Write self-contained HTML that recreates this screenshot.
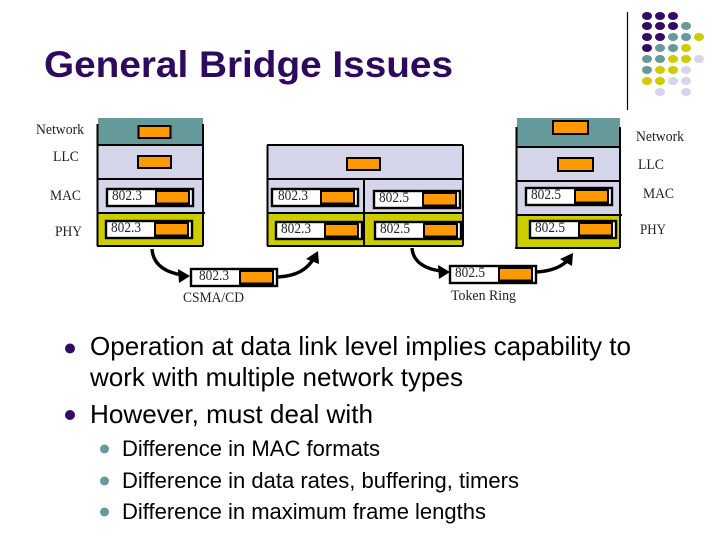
<!DOCTYPE html>
<html><head><meta charset="utf-8"><style>
html,body{margin:0;padding:0;background:#fff}
svg{display:block}
.s{font-family:"Liberation Sans",sans-serif;fill:#000}
.t{font-family:"Liberation Serif",serif;font-size:15px;fill:#222}
.o{fill:#ff9900;stroke:#000;stroke-width:2}
.w{fill:#fff;stroke:#000;stroke-width:2.4}
.a{stroke:#000;stroke-width:3.400;fill:none}
</style></head><body>
<svg width="720" height="540" viewBox="0 0 720 540" xmlns="http://www.w3.org/2000/svg">
<defs>
<g id="box"><rect class="w" x="0" y="0" width="86" height="17"/><rect x="48" y="1" width="35" height="15" fill="#000"/><rect x="50" y="3" width="31" height="10.500" fill="#ff9900"/></g>
</defs>

<!-- corner dots -->
<line x1="627.500" y1="12" x2="627.500" y2="110" stroke="#000" stroke-width="1.200"/>
<g fill="#330a66">
<ellipse cx="647" cy="16" rx="5" ry="4"/><ellipse cx="660" cy="16" rx="5" ry="4"/><ellipse cx="673" cy="16" rx="5" ry="4"/>
<ellipse cx="647" cy="26" rx="5" ry="4"/><ellipse cx="660" cy="26" rx="5" ry="4"/><ellipse cx="673" cy="26" rx="5" ry="4"/>
<ellipse cx="647" cy="37" rx="5" ry="4"/><ellipse cx="660" cy="37" rx="5" ry="4"/>
<ellipse cx="647" cy="48" rx="5" ry="4"/>
</g>
<g fill="#669999">
<ellipse cx="686" cy="26" rx="5" ry="4"/>
<ellipse cx="673" cy="37" rx="5" ry="4"/><ellipse cx="686" cy="37" rx="5" ry="4"/>
<ellipse cx="660" cy="48" rx="5" ry="4"/><ellipse cx="673" cy="48" rx="5" ry="4"/>
<ellipse cx="647" cy="59" rx="5" ry="4"/><ellipse cx="660" cy="59" rx="5" ry="4"/>
<ellipse cx="647" cy="70" rx="5" ry="4"/>
</g>
<g fill="#cccc00">
<ellipse cx="699" cy="37" rx="5" ry="4"/>
<ellipse cx="686" cy="48" rx="5" ry="4"/>
<ellipse cx="673" cy="59" rx="5" ry="4"/><ellipse cx="686" cy="59" rx="5" ry="4"/>
<ellipse cx="660" cy="70" rx="5" ry="4"/><ellipse cx="673" cy="70" rx="5" ry="4"/>
<ellipse cx="647" cy="81" rx="5" ry="4"/><ellipse cx="660" cy="81" rx="5" ry="4"/>
</g>
<g fill="#d5d5ea">
<ellipse cx="699" cy="59" rx="5" ry="4"/>
<ellipse cx="686" cy="70" rx="5" ry="4"/>
<ellipse cx="673" cy="81" rx="5" ry="4"/><ellipse cx="686" cy="81" rx="5" ry="4"/>
<ellipse cx="660" cy="92" rx="5" ry="4"/><ellipse cx="686" cy="92" rx="5" ry="4"/>
</g>

<!-- title -->
<text x="44" y="77" font-family="Liberation Sans, sans-serif" font-size="37" font-weight="bold" fill="#2e0a5e" textLength="409" lengthAdjust="spacingAndGlyphs">General Bridge Issues</text>

<!-- left stack -->
<rect x="98" y="118" width="105" height="27" fill="#669999"/>
<rect x="98" y="145" width="105" height="68" fill="#d5d5ea"/>
<rect x="98" y="213" width="105" height="33" fill="#cccc00"/>
<path d="M97.500 124V246M203 124V246M97 145H203M97 179H203M97 213H205M97 246H203" stroke="#000" stroke-width="2" fill="none"/>
<rect class="o" x="138.500" y="126" width="32" height="12"/>
<rect class="o" x="138" y="156" width="33" height="12"/>
<use href="#box" x="107" y="189"/>
<use href="#box" x="106" y="221"/>

<!-- middle stack -->
<rect x="267" y="145" width="196" height="68" fill="#d5d5ea"/>
<rect x="267" y="213" width="196" height="33" fill="#cccc00"/>
<path d="M267.500 145V246M463 145V246M267 145H463M267 179H463M267 213H463M267 246H463M364 179V246" stroke="#000" stroke-width="2" fill="none"/>
<rect class="o" x="347" y="158" width="33" height="12"/>
<use href="#box" x="272" y="189"/>
<use href="#box" x="276" y="222"/>
<use href="#box" x="374" y="191"/>
<use href="#box" x="375" y="222"/>

<!-- right stack -->
<rect x="517" y="118" width="103" height="29" fill="#669999"/>
<rect x="517" y="147" width="103" height="68" fill="#d5d5ea"/>
<rect x="517" y="215" width="103" height="33" fill="#cccc00"/>
<path d="M516.500 127V248M620 127V248M516 147H620M516 181H620M516 215H622M515 248H620" stroke="#000" stroke-width="2" fill="none"/>
<rect class="o" x="553" y="121" width="35" height="13"/>
<rect class="o" x="558" y="158" width="35" height="13"/>
<use href="#box" x="526" y="188"/>
<use href="#box" x="530" y="221"/>

<!-- medium boxes -->
<use href="#box" x="191" y="269"/>
<use href="#box" x="450" y="266"/>

<!-- arrows -->
<path class="a" d="M152 249C153 264 164 272 182 275"/>
<path d="M190 276L178 269L179 283Z" fill="#000"/>
<path class="a" d="M278 277C296 276 307 270 314 258"/>
<path d="M318 251L306 259L319 264Z" fill="#000"/>
<path class="a" d="M412 248C413 262 425 269 441 271"/>
<path d="M450 272L438 265L439 279Z" fill="#000"/>
<path class="a" d="M537 272C552 271 562 267 569 259"/>
<path d="M573 253L560 259L572 266Z" fill="#000"/>

<!-- diagram labels -->
<g class="t">
<text x="36" y="134" textLength="48" lengthAdjust="spacingAndGlyphs">Network</text>
<text x="53" y="161" textLength="26" lengthAdjust="spacingAndGlyphs">LLC</text>
<text x="50" y="200" textLength="31" lengthAdjust="spacingAndGlyphs">MAC</text>
<text x="55" y="236" textLength="27" lengthAdjust="spacingAndGlyphs">PHY</text>
<text x="636" y="141" textLength="48" lengthAdjust="spacingAndGlyphs">Network</text>
<text x="638" y="169" textLength="26" lengthAdjust="spacingAndGlyphs">LLC</text>
<text x="643" y="198" textLength="31" lengthAdjust="spacingAndGlyphs">MAC</text>
<text x="640" y="234" textLength="26" lengthAdjust="spacingAndGlyphs">PHY</text>
<text x="112" y="200" textLength="30" lengthAdjust="spacingAndGlyphs">802.3</text>
<text x="111" y="232" textLength="30" lengthAdjust="spacingAndGlyphs">802.3</text>
<text x="278" y="200" textLength="30" lengthAdjust="spacingAndGlyphs">802.3</text>
<text x="281" y="233" textLength="30" lengthAdjust="spacingAndGlyphs">802.3</text>
<text x="379" y="202" textLength="30" lengthAdjust="spacingAndGlyphs">802.5</text>
<text x="380" y="233" textLength="30" lengthAdjust="spacingAndGlyphs">802.5</text>
<text x="531" y="199" textLength="30" lengthAdjust="spacingAndGlyphs">802.5</text>
<text x="535" y="232" textLength="30" lengthAdjust="spacingAndGlyphs">802.5</text>
<text x="199" y="280" textLength="30" lengthAdjust="spacingAndGlyphs">802.3</text>
<text x="455" y="277" textLength="30" lengthAdjust="spacingAndGlyphs">802.5</text>
<text x="183" y="302" textLength="61" lengthAdjust="spacingAndGlyphs">CSMA/CD</text>
<text x="451" y="300" textLength="65" lengthAdjust="spacingAndGlyphs">Token Ring</text>
</g>

<!-- bullets -->
<circle cx="70" cy="348.500" r="5" fill="#330a66"/>
<circle cx="70" cy="415" r="5" fill="#330a66"/>
<circle cx="104.500" cy="449" r="4.500" fill="#669999"/>
<circle cx="104.500" cy="481" r="4.500" fill="#669999"/>
<circle cx="104.500" cy="512" r="4.500" fill="#669999"/>

<text class="s" x="90" y="355" font-size="26" textLength="541" lengthAdjust="spacingAndGlyphs">Operation at data link level implies capability to</text>
<text class="s" x="90" y="386" font-size="26" textLength="373" lengthAdjust="spacingAndGlyphs">work with multiple network types</text>
<text class="s" x="90" y="423" font-size="26" textLength="283" lengthAdjust="spacingAndGlyphs">However, must deal with</text>
<text class="s" x="122" y="456" font-size="22.500" textLength="258" lengthAdjust="spacingAndGlyphs">Difference in MAC formats</text>
<text class="s" x="122" y="488" font-size="22.500" textLength="397" lengthAdjust="spacingAndGlyphs">Difference in data rates, buffering, timers</text>
<text class="s" x="122" y="519" font-size="22.500" textLength="364" lengthAdjust="spacingAndGlyphs">Difference in maximum frame lengths</text>
</svg>
</body></html>
